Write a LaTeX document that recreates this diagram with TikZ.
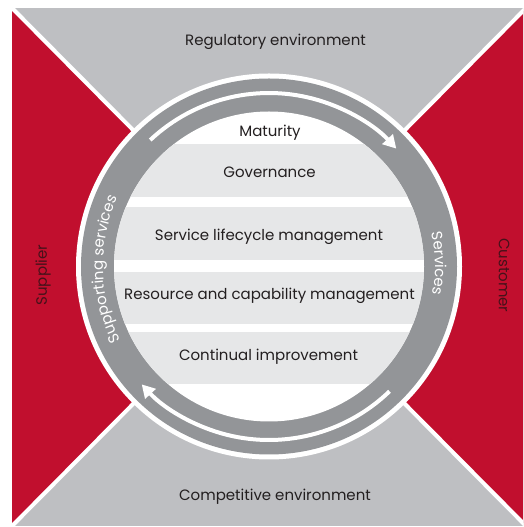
\documentclass[tikz,border=0pt]{standalone}
\usepackage{fontspec}
\setmainfont{Poppins}
\usetikzlibrary{arrows.meta,decorations.text}
\definecolor{crimson}{RGB}{193,15,46}
\definecolor{envgray}{RGB}{190,191,194}
\definecolor{ringgray}{RGB}{147,149,152}
\definecolor{bandgray}{RGB}{230,231,232}
\definecolor{inktext}{RGB}{35,31,32}
\definecolor{redink}{RGB}{70,18,26}
\newcommand{\labelsize}{\fontsize{15}{18}\selectfont}
\begin{document}
\begin{tikzpicture}[x=1pt,y=1pt,
  bandtext/.style={font=\labelsize, text=inktext, inner sep=0pt, anchor=base},
  sidetext/.style={font=\labelsize, text=redink, inner sep=0pt},
  flow/.style={draw=white, line width=4pt, -{Triangle[length=13pt,width=14pt]}},
  divider/.style={draw=white, line width=4pt},
  ringtext/.style={decorate, decoration={text along path, text align=center,
      text={|\labelsize\color{white}|#1}}}]
\useasboundingbox (0,0) rectangle (523,527);
\clip (0,0) rectangle (523,527);

% frame corners and centre of the wheel
\coordinate (C) at (269,260.5);
\coordinate (TL) at (12,519);
\coordinate (TR) at (526,519);
\coordinate (BL) at (12,1);
\coordinate (BR) at (526,1);

% environment (grey) and supplier/customer (red) sectors
\fill[envgray] (TL) rectangle (BR);
\fill[crimson] (TL) -- (C) -- (BL) -- cycle;
\fill[crimson] (TR) -- (C) -- (BR) -- cycle;
\draw[divider] (TL) -- (BR);
\draw[divider] (TR) -- (BL);

% the wheel: white rim, grey ring, white core
\fill[white] (C) circle[radius=193];
\fill[ringgray] (C) circle[radius=188];
\fill[white] (C) circle[radius=155];

% horizontal bands inside the core
\begin{scope}
  \clip (C) circle[radius=155];
  \fill[bandgray] (100,330.3) rectangle (440,382.7);
  \fill[bandgray] (100,267) rectangle (440,319.7);
  \fill[bandgray] (100,203) rectangle (440,255.3);
  \fill[bandgray] (100,143) rectangle (440,195.3);
\end{scope}

% clockwise flow arrows in the ring
\draw[flow] (C) ++(133.2:173.5) arc[start angle=133.2, end angle=42.8, radius=173.5];
\draw[flow] (C) ++(-46:173.5) arc[start angle=-46, end angle=-137.2, radius=173.5];

% text set along the ring
\path[ringtext={Supporting services}] (C) ++(216:166) arc[start angle=216, end angle=146, radius=166];
\path[ringtext={Services}] (C) ++(21:166) arc[start angle=21, end angle=-19, radius=166];

% labels
\node[bandtext] (regulatory) at (275.5,481.3) {Regulatory environment};
\node[bandtext] (maturity) at (270,390.3) {Maturity};
\node[bandtext] (governance) at (269.5,349.7) {Governance};
\node[bandtext] (lifecycle) at (269,286.3) {Service lifecycle management};
\node[bandtext] (resource) at (269.5,227.7) {Resource and capability management};
\node[bandtext] (improvement) at (268.5,166.3) {Continual improvement};
\node[bandtext] (competitive) at (275,26.3) {Competitive environment};
\node[sidetext, rotate=90] (supplier) at (43,252) {Supplier};
\node[sidetext, rotate=-90] (customer) at (504,251.7) {Customer};
\end{tikzpicture}
\end{document}
